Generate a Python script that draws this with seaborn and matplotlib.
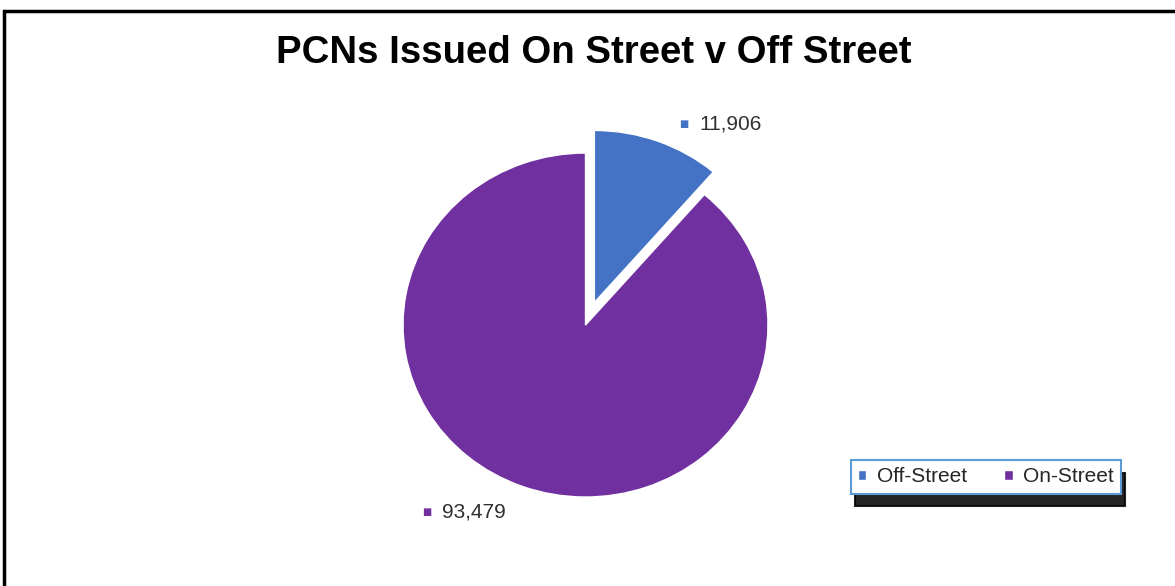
import matplotlib
matplotlib.use("Agg")
import matplotlib.pyplot as plt
import seaborn as sns
from matplotlib.patches import Rectangle

# Data
categories = ["Off-Street", "On-Street"]
pcns = [11906, 93479]
colors = ["#4472C4", "#7030A0"]

sns.set_theme(style="white")
plt.rcParams["font.family"] = ["Liberation Sans", "DejaVu Sans"]

fig = plt.figure(figsize=(11.75, 5.86), dpi=100)
fig.patch.set_facecolor("white")

# outer chart border (runs off the right and bottom edges)
fig.add_artist(Rectangle((4 / 1175, -0.05), 1.2, (586 - 11) / 586 + 0.05,
                         transform=fig.transFigure, fill=False,
                         edgecolor="black", linewidth=2.5))

ax = fig.add_axes([0.2964, 0.0638, 0.4038, 0.7631])
wedges, _ = ax.pie(pcns, colors=colors, startangle=90, counterclock=False,
                   explode=[0.14, 0], radius=1,
                   wedgeprops=dict(edgecolor="white", linewidth=1))
ax.set_aspect("auto")
ax.set_xlim(-1.3, 1.3)
ax.set_ylim(-1.3, 1.3)
ax.axis("off")

# data labels with small coloured squares
label_pos = [(0.626, 1.17), (-0.786, -1.09)]
for (x, y), val, c in zip(label_pos, pcns, colors):
    ax.text(x - 0.085, y, "\u25a0", color=c, fontsize=7, ha="center", va="center",
            family="DejaVu Sans")
    ax.text(x, y, f"{val:,}", color="#303030", fontsize=15,
            ha="left", va="center")

fig.text(0.505, 0.91, "PCNs Issued On Street v Off Street", ha="center",
         va="center", fontsize=27.6, fontweight="bold", color="black")

leg = fig.legend(wedges, categories, loc="center", bbox_to_anchor=(986 / 1175, 109 / 586),
                 ncol=2, frameon=True, fancybox=False, fontsize=15,
                 handlelength=0.4, handleheight=0.4, handletextpad=0.5,
                 columnspacing=1.8, borderpad=0.35, borderaxespad=0,
                 shadow={"color": "black", "alpha": 0.85, "ox": 3, "oy": -9})
leg.get_frame().set_edgecolor("#5B9BD5")
leg.get_frame().set_linewidth(1.5)
for t in leg.get_texts():
    t.set_color("#262626")

fig.savefig("out.png", dpi=100)
